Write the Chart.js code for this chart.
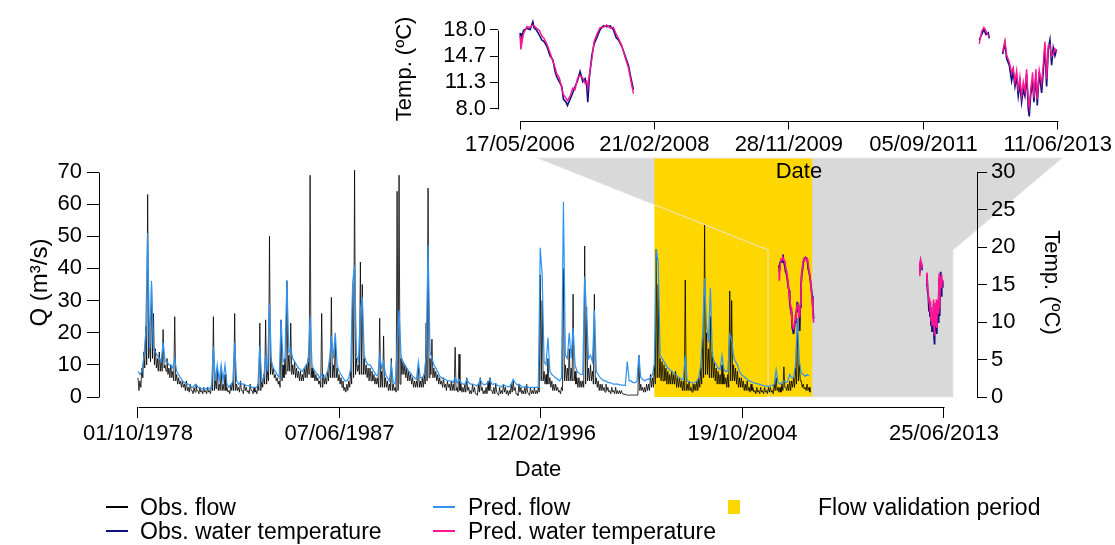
<!DOCTYPE html>
<html>
<head>
<meta charset="utf-8">
<script src="https://cdn.jsdelivr.net/npm/chart.js@4.4.1/dist/chart.umd.min.js"></script>
<style>
html, body { margin: 0; padding: 0; background: #fff; }
#wrap { position: relative; width: 1115px; height: 545px; font-family: 'Liberation Sans', Arial, sans-serif; color: #000; }
#wrap canvas { position: absolute; left: 0; top: 0; }
#main { z-index: 1; }
#inset { z-index: 2; }
.lg-line { position: absolute; height: 2px; width: 22px; z-index: 3; }
.lg-box { position: absolute; width: 12px; height: 14px; z-index: 3; }
.lg-text { position: absolute; font-size: 23px; line-height: 26px; white-space: nowrap; z-index: 3; }
</style>
</head>
<body>
<div id="wrap">
  <canvas id="main" width="1115" height="545"></canvas>
  <canvas id="inset" width="1115" height="545"></canvas>
</div>
<script>
// --- data -------------------------------------------------------------

const mainTickLabels = ['01/10/1978', '07/06/1987', '12/02/1996', '19/10/2004', '25/06/2013'];
const insetTickLabels = ['17/05/2006', '21/02/2008', '28/11/2009', '05/09/2011', '11/06/2013'];
const flowTicks = [0, 10, 20, 30, 40, 50, 60, 70];
const tempTicks = [0, 5, 10, 15, 20, 25, 30];
const insetTempTicks = [8, 11.333, 14.667, 18];

// monthly flow, one row per hydrological year (Oct..Sep), from 01/10/1978
const flowStartLabel = '01/10/1978';
const obsFlow = [
  6, 5, 9, 14, 22, 63, 18, 36, 26, 15, 12, 14,
  12, 21, 10, 12, 9, 10, 8, 25, 7, 6, 5, 5,
  4, 5, 3, 4, 2, 3, 4, 2, 3, 2, 3, 2,
  3, 2, 4, 25, 5, 9, 4, 8, 4, 7, 3, 2,
  4, 5, 26, 4, 3, 5, 2, 4, 3, 2, 4, 2,
  3, 2, 4, 23, 5, 7, 24, 8, 50, 12, 9, 7,
  6, 5, 24, 10, 12, 36, 13, 23, 10, 11, 9, 8,
  8, 7, 9, 10, 12, 69, 9, 8, 7, 6, 5, 26,
  7, 6, 8, 12, 31, 10, 18, 9, 7, 6, 5, 3,
  4, 5, 8, 35, 70.6, 12, 10, 42, 35, 12, 10, 9,
  9, 8, 7, 6, 6, 24.5, 8, 19, 6, 5, 4, 12,
  4, 3, 64, 69, 12, 11, 10, 9, 8, 7, 6, 5,
  5, 10, 5, 6, 7, 23, 65, 12, 18, 9, 8, 7,
  6, 5, 6, 4, 5, 4, 5, 4, 15.5, 3, 13.3, 4,
  3, 4, 6, 3, 2, 4, 3, 1, 4, 6, 3, 2,
  3, 5, 6, 2, 3, 4, 1, 3, 2, 4, 3, 2,
  2, 4, 5, 3, 1, 4, 3, 2, 3, 4, 1, 3,
  2, 3, 2, 3, 38, 30, 8, 7, 12, 6, 5, 4,
  4, 3, 2, 3, 40, 10, 9, 15, 9, 32, 8, 6,
  6, 5, 5, 47, 28, 9, 10, 8, 32, 6, 5, 4,
  4, 3, 4, 3, 2, 3, 2, 3, 2, 2, 2, 1,
  1, 0.6, 0.6, 0.6, 0.6, 0.6, 0.6, 13, 4, 3, 3, 4,
  4, 7, 6, 10, 46, 35, 12, 11, 10, 9, 8, 7,
  8, 7, 8, 6, 6, 5, 5, 36.4, 4, 5, 3, 4,
  4, 5, 6, 9, 18, 53.5, 20, 15, 25, 14, 11, 9,
  8, 7, 10, 7, 6, 7, 33, 30, 10, 9, 8, 6,
  6, 5, 4, 5, 3, 4, 3, 2, 3, 2, 3, 2,
  3, 2, 3, 3, 2, 4, 6, 3, 3, 4, 9.4, 3,
  4, 5, 5, 6, 9, 24, 10, 5, 4, 3, 4, 3
];
// lower edge of the daily observed-flow band, mid-month
const obsFlowLow = [
  2, 3, 6, 9, 10, 12, 11, 12, 10, 9, 8, 8,
  8, 9, 8, 7, 6, 6, 5, 5, 4, 4, 3, 3,
  2, 2, 1.5, 2, 1, 1.5, 2, 1, 1.5, 1, 1.5, 1,
  1.5, 1, 2, 2, 2.5, 2, 2, 2, 2, 2, 1.5, 1,
  2, 2, 2, 2, 1.5, 2, 1, 2, 1.5, 1, 2, 1,
  1.5, 1, 2, 2, 3, 4, 4, 5, 7, 7, 6, 5,
  4, 3, 5, 6, 7, 8, 8, 7, 7, 6, 6, 5,
  5, 5, 6, 6, 7, 6, 6, 5, 5, 4, 3, 3,
  4, 4, 5, 6, 6, 6, 6, 5, 4, 3, 2, 1.5,
  2, 3, 4, 6, 7, 8, 7, 7, 7, 7, 6, 5,
  5, 5, 4, 4, 3, 3, 3, 3, 3, 2, 2, 2,
  2, 1.5, 2, 4, 7, 7, 6, 5, 5, 4, 3, 3,
  3, 3, 3, 3, 4, 5, 6, 7, 6, 6, 5, 4,
  4, 3, 3, 2, 3, 2, 2, 2, 2, 1.5, 2, 1.5,
  1.5, 1.5, 2, 1, 1, 1.5, 1, 0.5, 1.5, 2, 1, 1,
  1, 2, 2, 1, 1, 1.5, 0.5, 1, 1, 1.5, 1, 0.5,
  1, 1.5, 2, 1, 0.5, 1.5, 1, 1, 1, 1.5, 0.5, 1,
  1, 1, 1, 1.5, 5, 5, 4, 4, 4, 3, 2, 2,
  2, 1.5, 1, 2, 5, 5, 5, 5, 5, 5, 4, 3,
  3, 3, 3, 4, 5, 5, 5, 4, 4, 3, 2, 2,
  2, 1.5, 2, 1.5, 1, 1.5, 1, 1, 1, 1, 1, 0.6,
  0.6, 0.6, 0.6, 0.6, 0.6, 0.6, 0.6, 2, 2, 1.5, 1.5, 2,
  2, 3, 3, 4, 6, 6, 5, 5, 5, 4, 4, 4,
  4, 4, 3, 3, 3, 2, 2, 2, 2, 2, 1.5, 2,
  2, 2, 3, 4, 6, 7, 7, 6, 6, 6, 5, 4,
  4, 4, 4, 4, 3, 3, 5, 5, 5, 4, 3, 3,
  3, 2, 2, 2, 1.5, 2, 1.5, 1, 1.5, 1, 1.5, 1,
  1.5, 1, 1.5, 1.5, 1, 2, 2, 1.5, 1.5, 2, 3, 2,
  2, 2, 3, 3, 4, 5, 5, 3, 2.5, 2, 2, 1.5
];
const predFlow = [
  8, 7, 8, 12, 20, 51, 15, 36, 15, 14, 13, 12,
  11, 17, 11, 11, 10, 10, 9, 12, 8, 7, 6, 5,
  4.5, 4, 4, 3.5, 3, 3.5, 4, 3, 3, 2.5, 2.5, 2.5,
  3, 2.5, 3, 15.6, 5, 10, 5, 10, 5, 10, 4, 3,
  4, 4.5, 17, 5, 4, 4.5, 4, 4, 3.5, 3.5, 3.5, 3,
  3, 3, 3.5, 16, 5, 6, 12, 8, 29, 11, 9, 8,
  7, 6, 24, 11, 12, 36.4, 14, 15, 12, 11, 10, 9,
  8.5, 8, 9, 10, 11, 25, 10, 8.5, 7.5, 7, 6, 7,
  6, 6.5, 8, 11, 19, 12, 20, 10, 8, 7, 6, 5,
  5, 6, 9, 35.5, 41, 13, 11, 27, 31, 13, 11, 10,
  10, 9, 8, 7, 6.5, 13, 9, 11, 7, 6, 5, 10,
  4.5, 4, 15, 27, 13, 11, 10, 9, 8, 7.5, 6.5, 6,
  5.5, 11, 6, 6, 7, 13, 47.3, 14, 12, 10, 9, 8,
  6.5, 6, 5.5, 5.5, 5, 5, 5, 4.5, 6, 4.5, 5.5, 4.5,
  4, 4, 5.5, 4.5, 4, 4, 3.8, 3.5, 4, 5.5, 4.2, 3.8,
  4, 4.5, 5.5, 4, 4, 4.2, 3.5, 3.5, 3.2, 3.8, 3.5, 3.2,
  3.2, 4, 5.5, 4.5, 3.8, 4, 3.5, 3, 3.2, 3.5, 3, 3,
  3, 3, 3, 3, 46.4, 38, 11, 10, 18.5, 8, 7, 6.5,
  6, 5.5, 5, 6, 60.7, 13, 12, 20, 12, 21.5, 10, 8,
  7.5, 7, 7, 37.5, 25, 12, 13, 11, 27, 8, 7, 6,
  5.5, 5, 5, 4.5, 4.5, 4.2, 4, 4, 4, 3.8, 3.8, 3.6,
  3.6, 11, 5, 5, 4.5, 4.5, 4.8, 13, 6, 5.5, 5, 5.5,
  5.5, 6, 7, 10, 46, 42, 13, 12, 11, 10, 9, 8.5,
  8, 7.5, 7, 6.5, 6, 5.5, 5.5, 13, 5, 4.8, 4.5, 4.3,
  4.5, 5, 6, 10, 20, 37, 22, 17, 34, 13, 11, 10,
  9, 8.5, 13, 8.5, 8, 8, 19.5, 18, 12.5, 11, 10, 8,
  7, 6.5, 6, 5.5, 5, 4.8, 4.5, 4.3, 4.2, 4, 3.8, 3.6,
  3.5, 3.4, 3.3, 3.5, 3.6, 4, 8.4, 4.5, 4, 4.5, 5, 4.5,
  5, 7, 6, 6, 10, 24.5, 11, 7.5, 7, 6.5, 7, 6.5
];

// water temperature (decimal years); null = no record
const tempDates = [
  2006.373, 2006.383, 2006.418, 2006.462, 2006.505, 2006.541, 2006.558, 2006.593, 2006.628, 2006.659,
  2006.689, 2006.725, 2006.768, 2006.804, 2006.834, 2006.856, 2006.890, 2006.922, 2006.943, 2006.978,
  2006.996, 2007.031, 2007.066, 2007.097, 2007.127, 2007.162, 2007.198, 2007.228, 2007.250, 2007.263,
  2007.285, 2007.316, 2007.346, 2007.382, 2007.425, 2007.469, 2007.513, 2007.557, 2007.600, 2007.636,
  2007.666, 2007.710, 2007.754, 2007.797, 2007.828, 2007.863,
  2010.000,
  2012.410, 2012.441, 2012.471, 2012.498, 2012.528, 2012.541,
  2012.630,
  2012.717, 2012.747, 2012.770, 2012.804, 2012.835, 2012.856, 2012.879, 2012.901, 2012.922, 2012.944,
  2012.966, 2012.988, 2013.010, 2013.032, 2013.054, 2013.067, 2013.085, 2013.111, 2013.128, 2013.155,
  2013.172, 2013.198, 2013.230, 2013.251, 2013.273, 2013.295, 2013.317, 2013.339, 2013.361, 2013.382,
  2013.404, 2013.426
];
const obsTemp = [
  17.6, 16.7, 17.9, 18.2, 18.0, 19.0, 18.2, 17.9, 17.3, 16.7,
  16.5, 15.9, 14.7, 14.2, 12.7, 12.0, 11.4, 10.8, 9.2, 8.8,
  8.4, 9.2, 10.0, 10.8, 11.5, 12.7, 11.4, 11.8, 10.8, 8.8,
  12.0, 14.7, 16.2, 17.0, 18.0, 18.5, 18.4, 18.5, 18.0, 17.0,
  16.7, 15.9, 14.7, 13.5, 12.0, 10.4,
  null,
  16.7, 17.4, 18.0, 17.4, 17.6, 16.9,
  null,
  14.9, 16.3, 14.3, 13.5, 11.5, 12.7, 10.8, 12.0, 9.6, 11.2,
  8.8, 10.4, 9.6, 12.4, 8.0, 7.0, 9.6, 11.5, 8.8, 12.2,
  8.4, 12.6, 10.0, 12.7, 15.9, 10.8, 15.5, 16.7, 13.5, 15.7,
  14.7, 15.5
];
const predTemp = [
  17.2, 15.5, 17.5, 18.4, 18.3, 18.6, 18.5, 18.2, 17.9, 17.2,
  16.9, 16.2, 15.1, 14.0, 13.2, 12.4, 11.9, 10.5, 9.8, 9.3,
  9.0, 9.6, 10.6, 10.4, 11.8, 12.2, 11.9, 11.2, 11.5, 10.6,
  12.4, 14.2, 16.5, 17.4, 18.3, 18.3, 18.6, 18.2, 18.3, 17.5,
  16.9, 16.0, 14.5, 13.2, 11.6, 9.9,
  null,
  16.2, 17.8, 18.3, 17.9, 17.3, 17.1,
  null,
  15.2, 16.6, 14.8, 13.9, 12.6, 13.2, 11.4, 12.8, 10.2, 12.0,
  9.6, 11.4, 10.2, 13.0, 9.0, 8.2, 10.3, 12.6, 9.4, 13.0,
  9.2, 12.9, 11.2, 13.6, 16.5, 11.8, 16.0, 16.1, 14.6, 15.0,
  15.6, 15.1
];

const validationPeriod = ['01/01/2001', '20/10/2007'];
// zoom connector: top edge in inset years, bottom edge in main years at a temperature level
const connectorTop = [2006.6, 2013.5];
const connectorBottom = [2005.9, 2013.87];
const connectorTemp = 19.6;

const colors = {
    obsFlow: '#000000',
    predFlow: '#2E93F2',
    obsTemp: '#10107F',
    predTemp: '#FF1493',
    validation: '#FFD700',
    zoom: '#D9D9D9'
};

// --- helpers ----------------------------------------------------------

function toYear(s) {
    const [d, m, y] = s.split('/').map(Number);
    const start = Date.UTC(y, 0, 1);
    const len = Date.UTC(y + 1, 0, 1) - start;
    return y + (Date.UTC(y, m - 1, d) - start) / len;
}

function points(xs, ys) {
    return xs.map((x, i) => ({ x: x, y: ys[i] }));
}

const flowStart = toYear(flowStartLabel);
const flowDates = obsFlow.map((_, i) => flowStart + i / 12);
// observed flow: monthly value followed by the band's lower edge half a month later
const obsFlowPoints = flowDates.flatMap((t, i) => [
    { x: t, y: obsFlow[i] },
    { x: t + 1 / 24, y: obsFlowLow[i] }
]);
const mainTickDates = mainTickLabels.map(toYear);
const insetTickDates = insetTickLabels.map(toYear);

Chart.defaults.font.family = "'Liberation Sans', Arial, sans-serif";
Chart.defaults.color = '#000';

const tickFont = { size: 22 };
const titleFont = { size: 22 };

// axis line only from first to last tick, like base R
const rAxisLines = {
    id: 'rAxisLines',
    afterDraw(chart, args, opts) {
        const ctx = chart.ctx;
        ctx.save();
        ctx.strokeStyle = '#000';
        ctx.lineWidth = 1;
        (opts.scales || []).forEach(id => {
            const s = chart.scales[id];
            const a = Math.round(s.getPixelForValue(s.ticks[0].value)) + 0.5;
            const b = Math.round(s.getPixelForValue(s.ticks[s.ticks.length - 1].value)) + 0.5;
            ctx.beginPath();
            if (s.isHorizontal()) {
                const y = Math.round(s.top) + 0.5;
                ctx.moveTo(a, y); ctx.lineTo(b, y);
            } else {
                const x = Math.round(s.position === 'left' ? s.right : s.left) + 0.5;
                ctx.moveTo(x, a); ctx.lineTo(x, b);
            }
            ctx.stroke();
        });
        ctx.restore();
    }
};

function fixedTicks(values) {
    return scale => { scale.ticks = values.map(v => ({ value: v })); };
}

// --- inset (zoom on the temperature record) ---------------------------

const insetChart = new Chart(document.getElementById('inset'), {
    type: 'line',
    data: {
        datasets: [
            { data: points(tempDates, predTemp), borderColor: colors.predTemp, borderWidth: 1.4 },
            { data: points(tempDates, obsTemp), borderColor: colors.obsTemp, borderWidth: 1.6 }
        ]
    },
    options: {
        responsive: false,
        animation: false,
        events: [],
        spanGaps: false,
        elements: { point: { radius: 0 }, line: { tension: 0 } },
        layout: { padding: { left: 392, right: 15, top: 8, bottom: 360 } },
        plugins: { legend: { display: false }, tooltip: { enabled: false }, rAxisLines: { scales: ['x', 'y'] } },
        scales: {
            x: {
                type: 'linear', bounds: 'data', min: 2006.083, max: 2013.994,
                afterBuildTicks: fixedTicks(insetTickDates),
                afterFit: s => { s.height = 64.5; },
                ticks: { callback: (v, i) => insetTickLabels[i], autoSkip: false, maxRotation: 0, font: tickFont, padding: 2 },
                grid: { drawOnChartArea: false, color: '#000', tickLength: 9 },
                border: { display: false },
                title: { display: true, text: 'Date', font: titleFont, padding: 0 }
            },
            y: {
                type: 'linear', bounds: 'data', min: 6.49, max: 19.59,
                afterBuildTicks: fixedTicks(insetTempTicks),
                afterFit: s => { s.width = 106; },
                ticks: { callback: v => v.toFixed(1), font: tickFont, padding: 4 },
                grid: { drawOnChartArea: false, color: '#000', tickLength: 8 },
                border: { display: false },
                title: { display: true, text: 'Temp. (ºC)', font: titleFont, padding: 0 }
            }
        }
    },
    plugins: [rAxisLines]
});

// --- main chart -------------------------------------------------------

// grey zoom wedge and yellow validation band, painted before axes and lines
const zoomBackdrop = {
    id: 'zoomBackdrop',
    beforeDraw(chart) {
        const { ctx, chartArea, scales } = chart;
        const ix = insetChart.scales.x;
        const top = chartArea.top;
        const tl = ix.getPixelForValue(connectorTop[0]);
        const tr = ix.getPixelForValue(connectorTop[1]);
        const bl = scales.x.getPixelForValue(connectorBottom[0]);
        const br = scales.x.getPixelForValue(connectorBottom[1]);
        const yk = scales.yT.getPixelForValue(connectorTemp);
        const y0 = scales.yT.getPixelForValue(0);
        ctx.save();
        ctx.beginPath();
        ctx.moveTo(tl, top);
        ctx.lineTo(tr, top);
        ctx.lineTo(br, yk);
        ctx.lineTo(br, y0);
        ctx.lineTo(bl, y0);
        ctx.lineTo(bl, yk);
        ctx.closePath();
        ctx.fillStyle = colors.zoom;
        ctx.fill();
        const v0 = scales.x.getPixelForValue(toYear(validationPeriod[0]));
        const v1 = scales.x.getPixelForValue(toYear(validationPeriod[1]));
        ctx.fillStyle = colors.validation;
        ctx.fillRect(v0, top, v1 - v0, y0 - top);
        ctx.strokeStyle = 'rgba(232,232,232,0.9)';
        ctx.lineWidth = 1;
        ctx.stroke();
        ctx.restore();
    }
};

new Chart(document.getElementById('main'), {
    type: 'line',
    data: {
        datasets: [
            { label: 'Pred. water temperature', data: points(tempDates, predTemp), yAxisID: 'yT', borderColor: colors.predTemp, borderWidth: 1.6 },
            { label: 'Obs. water temperature', data: points(tempDates, obsTemp), yAxisID: 'yT', borderColor: colors.obsTemp, borderWidth: 1.8 },
            { label: 'Pred. flow', data: points(flowDates, predFlow), yAxisID: 'yQ', borderColor: colors.predFlow, borderWidth: 1.2 },
            { label: 'Obs. flow', data: obsFlowPoints, yAxisID: 'yQ', borderColor: colors.obsFlow, borderWidth: 0.8 }
        ]
    },
    options: {
        responsive: false,
        animation: false,
        events: [],
        spanGaps: false,
        elements: { point: { radius: 0 }, line: { tension: 0 } },
        layout: { padding: { left: 26, right: 51, top: 158, bottom: 62 } },
        plugins: { legend: { display: false }, tooltip: { enabled: false }, rAxisLines: { scales: ['x', 'yQ', 'yT'] } },
        scales: {
            x: {
                type: 'linear', bounds: 'data', min: 1977.068, max: 2014.903,
                afterBuildTicks: fixedTicks(mainTickDates),
                afterFit: s => { s.height = 76; },
                ticks: { callback: (v, i) => mainTickLabels[i], autoSkip: false, maxRotation: 0, font: tickFont, padding: 3 },
                grid: { drawOnChartArea: false, color: '#000', tickLength: 11 },
                border: { display: false },
                title: { display: true, text: 'Date', font: titleFont, padding: 0 }
            },
            yQ: {
                type: 'linear', position: 'left', bounds: 'data', min: -3.111, max: 74.356,
                afterBuildTicks: fixedTicks(flowTicks),
                afterFit: s => { s.width = 73; },
                ticks: { font: tickFont, padding: 5 },
                grid: { drawOnChartArea: false, color: '#000', tickLength: 12 },
                border: { display: false },
                title: { display: true, text: 'Q (m³/s)', font: { size: 24 }, padding: 0 }
            },
            yT: {
                type: 'linear', position: 'right', bounds: 'data', min: -1.333, max: 31.867,
                afterBuildTicks: fixedTicks(tempTicks),
                afterFit: s => { s.width = 87; },
                ticks: { font: tickFont, padding: 4 },
                grid: { drawOnChartArea: false, color: '#000', tickLength: 10 },
                border: { display: false },
                title: { display: true, text: 'Temp. (ºC)', font: titleFont, padding: 0 }
            }
        }
    },
    plugins: [zoomBackdrop, rAxisLines]
});

// --- legend (base R style, three columns) ------------------------------

const legendItems = [
    { label: 'Obs. flow', color: colors.obsFlow, kind: 'line', sx: 106, tx: 140, y: 507 },
    { label: 'Obs. water temperature', color: colors.obsTemp, kind: 'line', sx: 106, tx: 140, y: 531 },
    { label: 'Pred. flow', color: colors.predFlow, kind: 'line', sx: 433, tx: 468, y: 507 },
    { label: 'Pred. water temperature', color: colors.predTemp, kind: 'line', sx: 433, tx: 468, y: 531 },
    { label: 'Flow validation period', color: colors.validation, kind: 'box', sx: 728, tx: 818, y: 507 }
];

const wrap = document.getElementById('wrap');
legendItems.forEach(item => {
    const sw = document.createElement('div');
    sw.className = item.kind === 'box' ? 'lg-box' : 'lg-line';
    sw.style.background = item.color;
    sw.style.left = item.sx + 'px';
    sw.style.top = (item.kind === 'box' ? item.y - 7 : item.y - 1) + 'px';
    wrap.appendChild(sw);
    const tx = document.createElement('div');
    tx.className = 'lg-text';
    tx.textContent = item.label;
    tx.style.left = item.tx + 'px';
    tx.style.top = (item.y - 13) + 'px';
    wrap.appendChild(tx);
});
</script>
</body>
</html>
